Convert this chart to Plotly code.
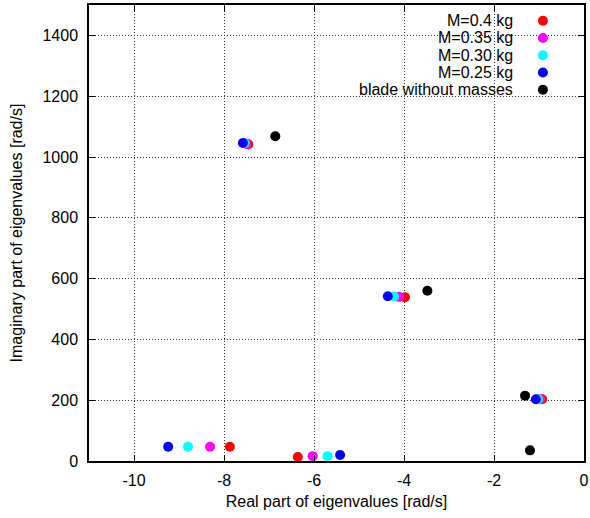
import plotly.graph_objects as go

# Eigenvalues (real, imaginary) of the blade for each added mass
series_names = ["M=0.4 kg", "M=0.35 kg", "M=0.30 kg", "M=0.25 kg", "blade without masses"]
series_colors = ["#ff0000", "#ff00ff", "#00ffff", "#0000ff", "#000000"]

re_m040 = [-7.87, -6.36, -7.46, -3.98, -0.93]
im_m040 = [47, 13, 1042, 539, 203]

re_m035 = [-8.31, -6.03, -7.50, -4.11, -0.98]
im_m035 = [47, 16, 1043, 540, 203]

re_m030 = [-8.80, -5.70, -7.54, -4.22, -1.02]
im_m030 = [47, 16, 1045, 541, 203]

re_m025 = [-9.24, -5.42, -7.58, -4.36, -1.07]
im_m025 = [47, 20, 1046, 542, 203]

re_blade = [-6.86, -3.48, -1.31, -1.20]
im_blade = [1068, 560, 215, 35]

x_ticks = [-10, -8, -6, -4, -2, 0]
y_ticks = [0, 200, 400, 600, 800, 1000, 1200, 1400]

series_re = [re_m040, re_m035, re_m030, re_m025, re_blade]
series_im = [im_m040, im_m035, im_m030, im_m025, im_blade]

FONT = "Liberation Sans, Arial, sans-serif"
FS = 16

# plot area in pixels
L, R, T, B = 89, 589, 5, 461
PW, PH = R - L, B - T

def px_x(p):
    return (p - L) / PW

def px_y(p):
    return 1 - (p - T) / PH

fig = go.Figure()
for name, color, xs, ys in zip(series_names, series_colors, series_re, series_im):
    fig.add_trace(go.Scatter(
        x=xs, y=ys, mode="markers", name=name,
        marker=dict(color=color, size=10, line=dict(width=0)),
        showlegend=False,
    ))

# gnuplot-style key: opaque box over the grid, right-aligned label, then the point symbol
shapes = [dict(
    type="rect", xref="paper", yref="paper", layer="between",
    x0=px_x(320), x1=1, y0=px_y(99), y1=1,
    fillcolor="#ffffff", line=dict(width=0),
)]
annotations = []
row_first, row_step = 20.7, 17.25
for i, (name, color) in enumerate(zip(series_names, series_colors)):
    yc = px_y(row_first + i * row_step)
    annotations.append(dict(
        xref="paper", yref="paper", x=px_x(519), y=yc,
        xanchor="right", yanchor="middle", text=name, showarrow=False,
        font=dict(family=FONT, size=FS, color="#000000"),
    ))
    shapes.append(dict(
        type="circle", xref="paper", yref="paper",
        xsizemode="pixel", ysizemode="pixel",
        xanchor=px_x(547.5), yanchor=yc,
        x0=-5, x1=5, y0=-5, y1=5,
        fillcolor=color, line=dict(width=0),
    ))

axis_common = dict(
    showline=True, linecolor="#000000", linewidth=1.5, mirror="ticks",
    ticks="inside", ticklen=6, tickwidth=1.2, tickcolor="#000000",
    showgrid=True, gridcolor="#333333", gridwidth=1, griddash="1px,2px",
    zeroline=False, ticklabeloverflow="allow",
    tickfont=dict(family=FONT, size=FS, color="#000000"),
)

fig.update_layout(
    width=590, height=518,
    margin=dict(l=L, r=590 - R, t=T, b=518 - B),
    plot_bgcolor="#ffffff", paper_bgcolor="#ffffff",
    font=dict(family=FONT, size=FS, color="#000000"),
    shapes=shapes, annotations=annotations,
    xaxis=dict(
        range=[-11, 0], tickvals=x_ticks, ticktext=[str(v) for v in x_ticks],
        ticklabelstandoff=4,
        title=dict(text="Real part of eigenvalues [rad/s]", standoff=8,
                   font=dict(family=FONT, size=FS)),
        **axis_common,
    ),
    yaxis=dict(
        range=[0, 1500], tickvals=y_ticks, ticktext=[str(v) for v in y_ticks],
        ticklabelstandoff=6,
        title=dict(text="Imaginary part of eigenvalues [rad/s]", standoff=16,
                   font=dict(family=FONT, size=FS)),
        **axis_common,
    ),
)

fig.write_html("out.html")
